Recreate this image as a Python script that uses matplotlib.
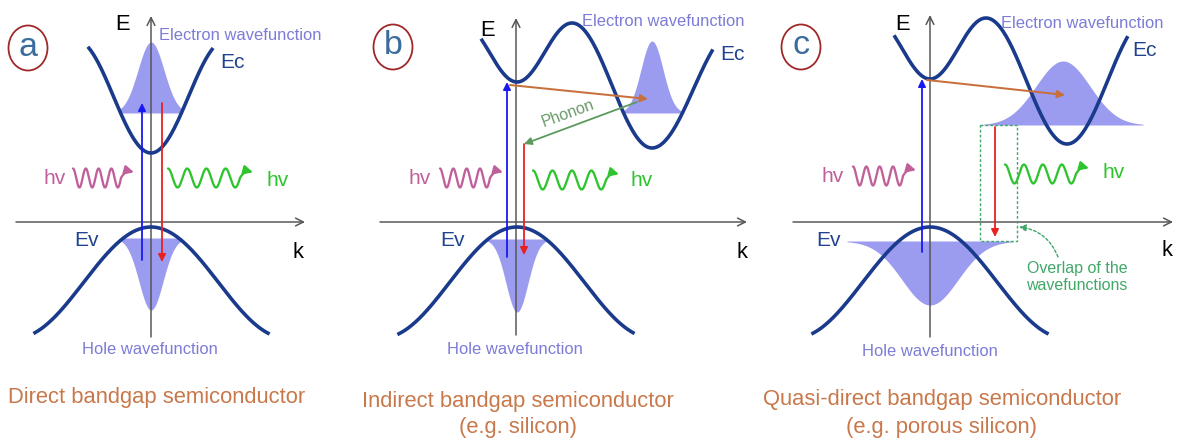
import numpy as np
import matplotlib
matplotlib.use("Agg")
import matplotlib.pyplot as plt
from matplotlib.patches import Ellipse, Rectangle

plt.rcParams["font.family"] = ["Liberation Sans", "DejaVu Sans"]

# canvas is in image pixels: x to the right, y downwards
W, H = 1177, 441

# band extrema (x, y) per panel; first/last points lie beyond the drawn range
CB_X = {"a": [76, 151, 226], "b": [462, 517, 572, 652, 735], "c": [874, 930, 986, 1067, 1148]}
CB_Y = {"a": [40, 153, 40], "b": [23, 82, 23, 148, 30], "c": [18, 79, 18, 144, 18]}
CB_RANGE = {"a": (89, 212), "b": (482, 712), "c": (895, 1127)}
VB_X = {"a": [16, 151, 286], "b": [382, 517, 652], "c": [795, 930, 1065]}
VB_Y = {"a": [338, 227, 338], "b": [338, 227, 338], "c": [338, 227, 338]}
VB_RANGE = {"a": (35, 268), "b": (399, 633), "c": (813, 1047)}

# wavefunctions: center, base, peak, sigma, half width
ELEC_WF = {"a": (151, 113, 42, 13, 31), "b": (652, 113, 41, 11, 30), "c": (1063, 125, 61, 27, 80)}
HOLE_WF = {"a": (151, 238, 310, 12, 31), "b": (517, 239, 312, 11, 30), "c": (930, 241, 305, 28, 83)}

# axes: E axis (x, y_bottom, y_top), k axis (y, x_left, x_right)
E_AXIS = {"a": (151, 337, 16), "b": (516, 335, 18), "c": (930, 337, 15)}
K_AXIS = {"a": (222, 16, 305), "b": (222, 380, 747), "c": (222, 793, 1173)}

# transitions: (x0, y0, x1, y1)
ABSORB = {"a": (142, 260, 142, 103), "b": (507, 257, 507, 82), "c": (922, 252, 922, 79)}
EMIT = {"a": (162, 103, 162, 262), "b": (524, 144, 524, 255), "c": (995, 127, 995, 237)}
SCATTER = {"b": (510, 85, 648, 99), "c": (927, 80, 1065, 95)}
PHONON = (637, 102, 524, 144)

# photons: x0, x1, y
PHOTON_IN = {"a": (73, 134, 178), "b": (440, 503, 178), "c": (853, 916, 176)}
PHOTON_OUT = {"a": (168, 253, 178), "b": (533, 619, 180), "c": (1005, 1089, 174)}
HV_IN_POS = {"a": (55, 179), "b": (420, 178), "c": (833, 177)}
HV_OUT_POS = {"a": (278, 180), "b": (642, 180), "c": (1114, 173)}

E_POS = {"a": (123, 25), "b": (488, 30), "c": (903, 25)}
EC_POS = {"a": (233, 63), "b": (732, 55), "c": (1145, 50)}
EV_POS = {"a": (87, 240), "b": (453, 240), "c": (828, 240)}
K_POS = {"a": (298, 252), "b": (742, 252), "c": (1167, 250)}
ELEC_LABEL_POS = {"a": (240, 35), "b": (663, 22), "c": (1082, 23)}
HOLE_LABEL_POS = {"a": (150, 350), "b": (515, 350), "c": (930, 352)}
BADGE_POS = {"a": (28, 48), "b": (393, 47), "c": (801, 47)}

TITLES = {
    "a": ["Direct bandgap semiconductor"],
    "b": ["Indirect bandgap semiconductor", "(e.g. silicon)"],
    "c": ["Quasi-direct bandgap semiconductor", "(e.g. porous silicon)"],
}
TITLE_POS = {"a": [(157, 398)], "b": [(518, 402), (518, 428)], "c": [(942, 400), (942, 427)]}

BAND = "#1a3a8c"
FILL = "#9b9bf0"
WF_TEXT = "#7c7cd8"
TITLE_C = "#c8784a"
PINK = "#c0609a"
GREEN = "#2ec42e"
AXIS_C = "#555555"


def px(v):
    # pixel size -> points at dpi 100
    return v * 0.72


def cosine_band(ext_x, ext_y, x_range, n=300):
    x = np.linspace(x_range[0], x_range[1], n)
    y = np.empty_like(x)
    for i in range(len(ext_x) - 1):
        m = (x >= ext_x[i]) & (x <= ext_x[i + 1])
        t = (x[m] - ext_x[i]) / (ext_x[i + 1] - ext_x[i])
        y[m] = ext_y[i] + (ext_y[i + 1] - ext_y[i]) * (1 - np.cos(np.pi * t)) / 2
    return x, y


def arrow(ax, x0, y0, x1, y1, color, lw=1.6, style="-|>", ms=11, ls="-", conn=None):
    props = dict(arrowstyle=style, color=color, lw=px(lw), mutation_scale=ms,
                 shrinkA=0, shrinkB=0, linestyle=ls)
    if conn:
        props["connectionstyle"] = conn
    ax.annotate("", xy=(x1, y1), xytext=(x0, y0), arrowprops=props)


def photon(ax, x0, x1, yc, color, amp=9.5):
    t = np.linspace(0, 1, 300)
    xs = x0 + t * (x1 - x0 - 13)
    ys = yc - amp * np.cos(2 * np.pi * 3.75 * t)
    ax.plot(xs, ys, color=color, lw=px(2.3), solid_capstyle="round")
    arrow(ax, xs[-1], ys[-1], x1, yc - amp * 0.6, color, lw=2.3, ms=13,
          conn="arc3,rad=-0.4")


fig = plt.figure(figsize=(W / 100, H / 100), dpi=100)
ax = fig.add_axes([0, 0, 1, 1])
ax.set_xlim(0, W)
ax.set_ylim(H, 0)
ax.axis("off")

for p in ["a", "b", "c"]:
    # wavefunctions
    c, base, peak, sig, hw = ELEC_WF[p]
    xs = np.linspace(c - hw, c + hw, 200)
    ax.fill_between(xs, base, base - (base - peak) * np.exp(-0.5 * ((xs - c) / sig) ** 2),
                    color=FILL, lw=0, zorder=1)
    c, base, peak, sig, hw = HOLE_WF[p]
    xs = np.linspace(c - hw, c + hw, 200)
    ax.fill_between(xs, base, base + (peak - base) * np.exp(-0.5 * ((xs - c) / sig) ** 2),
                    color=FILL, lw=0, zorder=1)

    # axes
    ex, eb, et = E_AXIS[p]
    arrow(ax, ex, eb, ex, et, AXIS_C, lw=1.5, style="->", ms=14)
    ky, kl, kr = K_AXIS[p]
    arrow(ax, kl, ky, kr, ky, AXIS_C, lw=1.5, style="->", ms=14)

    # bands
    x, y = cosine_band(CB_X[p], CB_Y[p], CB_RANGE[p])
    ax.plot(x, y, color=BAND, lw=px(3.6), zorder=3)
    x, y = cosine_band(VB_X[p], VB_Y[p], VB_RANGE[p])
    ax.plot(x, y, color=BAND, lw=px(3.6), zorder=3)

    # transitions
    arrow(ax, *ABSORB[p], color="#1818f0", lw=1.8)
    arrow(ax, *EMIT[p], color="#e82020", lw=1.8)
    if p in SCATTER:
        arrow(ax, *SCATTER[p], color="#c8703c", lw=2)

    photon(ax, *PHOTON_IN[p], PINK)
    photon(ax, *PHOTON_OUT[p], GREEN)
    ax.text(*HV_IN_POS[p], "hv", color=PINK, fontsize=px(21), ha="center", va="center")
    ax.text(*HV_OUT_POS[p], "hv", color=GREEN, fontsize=px(21), ha="center", va="center")

    ax.text(*E_POS[p], "E", color="black", fontsize=px(22), ha="center", va="center")
    ax.text(*K_POS[p], "k", color="black", fontsize=px(22), ha="center", va="center")
    ax.text(*EC_POS[p], "Ec", color="#21438f", fontsize=px(21), ha="center", va="center")
    ax.text(*EV_POS[p], "Ev", color="#21438f", fontsize=px(21), ha="center", va="center")
    ax.text(*ELEC_LABEL_POS[p], "Electron wavefunction", color=WF_TEXT, fontsize=px(16.5),
            ha="center", va="center")
    ax.text(*HOLE_LABEL_POS[p], "Hole wavefunction", color=WF_TEXT, fontsize=px(16.5),
            ha="center", va="center")
    for line, pos in zip(TITLES[p], TITLE_POS[p]):
        ax.text(*pos, line, color=TITLE_C, fontsize=px(22), ha="center", va="center")

    bx, by = BADGE_POS[p]
    ax.add_patch(Ellipse((bx, by), 39, 45, fill=False, ec="#a02828", lw=px(1.8)))
    ax.text(bx, by - 1, p, color="#3a6c9c", fontsize=px(34), ha="center", va="center")

# phonon in panel b
arrow(ax, *PHONON, color="#5c9a5c", lw=1.8)
ax.text(568, 113, "Phonon", color="#6a9a6a", fontsize=px(16), rotation=20,
        ha="center", va="center")

# overlap box in panel c
ax.add_patch(Rectangle((980, 125), 37, 116, fill=False, ec="#40a868", lw=px(1.4),
                       ls=(0, (2, 1.5)), zorder=4))
arrow(ax, 1058, 257, 1019, 227, "#40a868", lw=1.4, ls=(0, (2, 1.5)), ms=10,
      conn="arc3,rad=0.3")
ax.text(1077, 277, "Overlap of the\nwavefunctions", color="#40a868", fontsize=px(16),
        ha="center", va="center", linespacing=1.1)

fig.savefig("out.png", dpi=100)
plt.close(fig)
